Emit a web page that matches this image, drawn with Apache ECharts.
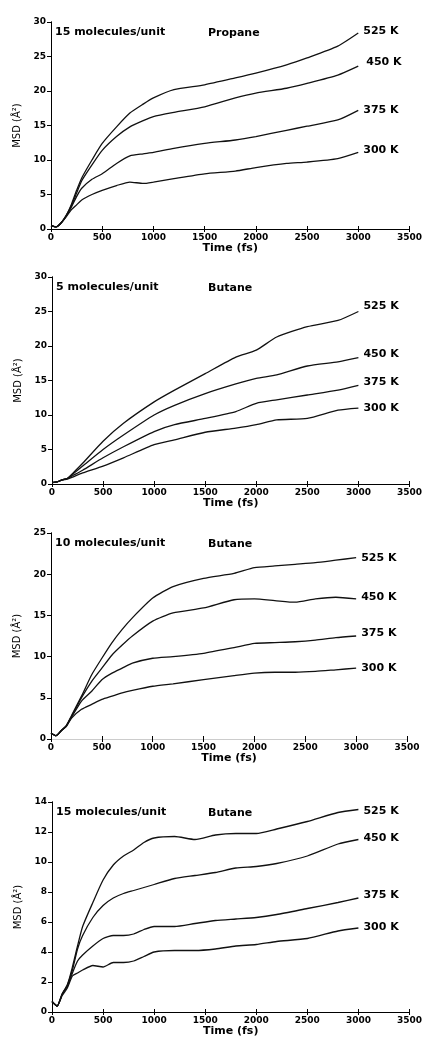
<!DOCTYPE html>
<html>
<head>
<meta charset="utf-8">
<script src="https://cdn.jsdelivr.net/npm/echarts@6/dist/echarts.min.js"></script>
<style>
  html, body { margin: 0; padding: 0; background: #fff; }
  #msdChart { width: 425px; height: 1038px; }
</style>
</head>
<body>
<div id="msdChart"></div>
<script>
// time (fs) and MSD (A^2)
var p1Time = [0, 50, 100, 150, 200, 250, 300, 400, 500, 640, 770, 900, 1000, 1200, 1500, 1800, 2000, 2300, 2500, 2800, 3000];
var p1K525 = [0.5, 0.3, 0.9, 2.0, 3.6, 5.6, 7.4, 10.0, 12.4, 14.8, 16.8, 18.1, 19.0, 20.2, 20.9, 21.9, 22.6, 23.8, 24.8, 26.5, 28.4];
var p1K450 = [0.5, 0.3, 0.9, 2.0, 3.4, 5.2, 7.0, 9.3, 11.4, 13.4, 14.8, 15.7, 16.3, 16.9, 17.7, 19.0, 19.7, 20.4, 21.1, 22.3, 23.6];
var p1K375 = [0.5, 0.3, 0.9, 1.9, 3.2, 4.7, 5.9, 7.2, 8.0, 9.5, 10.6, 10.9, 11.1, 11.7, 12.4, 12.9, 13.4, 14.3, 14.9, 15.8, 17.2];
var p1K300 = [0.5, 0.3, 0.9, 1.8, 2.8, 3.5, 4.2, 5.0, 5.6, 6.3, 6.8, 6.6, 6.8, 7.3, 8.0, 8.4, 8.9, 9.5, 9.7, 10.2, 11.1];

var p2Time = [0, 50, 100, 150, 200, 300, 500, 700, 1000, 1200, 1500, 1800, 2000, 2200, 2500, 2800, 3000];
var p2K525 = [0.2, 0.3, 0.6, 0.8, 1.5, 3.0, 6.2, 8.8, 11.9, 13.6, 16.0, 18.4, 19.4, 21.3, 22.8, 23.7, 25.0];
var p2K450 = [0.2, 0.3, 0.6, 0.8, 1.4, 2.6, 5.0, 7.1, 10.0, 11.4, 13.1, 14.5, 15.3, 15.8, 17.1, 17.7, 18.3];
var p2K375 = [0.2, 0.3, 0.6, 0.8, 1.2, 2.0, 3.8, 5.4, 7.6, 8.6, 9.5, 10.5, 11.7, 12.2, 12.9, 13.6, 14.3];
var p2K300 = [0.2, 0.3, 0.6, 0.7, 1.0, 1.6, 2.6, 3.8, 5.7, 6.4, 7.5, 8.1, 8.6, 9.3, 9.5, 10.7, 11.0];

var p3Time = [0, 50, 100, 150, 200, 300, 400, 500, 600, 700, 800, 1000, 1200, 1500, 1800, 2000, 2200, 2400, 2600, 2800, 3000];
var p3K525 = [0.7, 0.4, 1.0, 1.6, 2.8, 5.2, 7.8, 9.8, 11.7, 13.3, 14.7, 17.1, 18.5, 19.5, 20.1, 20.8, 21.0, 21.2, 21.4, 21.7, 22.0];
var p3K450 = [0.7, 0.4, 1.0, 1.6, 2.7, 5.0, 7.0, 8.6, 10.2, 11.4, 12.5, 14.3, 15.3, 15.9, 16.9, 17.0, 16.8, 16.6, 17.0, 17.2, 17.0];
var p3K375 = [0.7, 0.4, 1.0, 1.6, 2.6, 4.6, 5.8, 7.2, 8.0, 8.6, 9.2, 9.8, 10.0, 10.4, 11.1, 11.6, 11.7, 11.8, 12.0, 12.3, 12.5];
var p3K300 = [0.7, 0.4, 1.0, 1.5, 2.5, 3.6, 4.2, 4.8, 5.2, 5.6, 5.9, 6.4, 6.7, 7.2, 7.7, 8.0, 8.1, 8.1, 8.2, 8.4, 8.6];

var p4Time = [0, 50, 100, 150, 200, 250, 300, 400, 500, 600, 700, 800, 900, 1000, 1200, 1400, 1600, 1800, 2000, 2200, 2500, 2800, 3000];
var p4K525 = [0.7, 0.4, 1.2, 1.8, 3.0, 4.4, 5.7, 7.3, 8.8, 9.8, 10.4, 10.8, 11.3, 11.6, 11.7, 11.5, 11.8, 11.9, 11.9, 12.2, 12.7, 13.3, 13.5];
var p4K450 = [0.7, 0.4, 1.2, 1.8, 2.8, 4.2, 5.1, 6.3, 7.1, 7.6, 7.9, 8.1, 8.3, 8.5, 8.9, 9.1, 9.3, 9.6, 9.7, 9.9, 10.4, 11.2, 11.5];
var p4K375 = [0.7, 0.4, 1.2, 1.7, 2.6, 3.4, 3.8, 4.4, 4.9, 5.1, 5.1, 5.2, 5.5, 5.7, 5.7, 5.9, 6.1, 6.2, 6.3, 6.5, 6.9, 7.3, 7.6];
var p4K300 = [0.7, 0.4, 1.1, 1.6, 2.4, 2.6, 2.8, 3.1, 3.0, 3.3, 3.3, 3.4, 3.7, 4.0, 4.1, 4.1, 4.2, 4.4, 4.5, 4.7, 4.9, 5.4, 5.6];

var tempLabels = ['525 K', '450 K', '375 K', '300 K'];
var loadingLabels = ['15 molecules/unit', '5 molecules/unit', '10 molecules/unit', '15 molecules/unit'];
var moleculeLabels = ['Propane', 'Butane', 'Butane', 'Butane'];
var yMax = [30, 30, 25, 14];
var yStep = [5, 5, 5, 2];

var panels = [
  { time: p1Time, vals: [p1K525, p1K450, p1K375, p1K300] },
  { time: p2Time, vals: [p2K525, p2K450, p2K375, p2K300] },
  { time: p3Time, vals: [p3K525, p3K450, p3K375, p3K300] },
  { time: p4Time, vals: [p4K525, p4K450, p4K375, p4K300] }
];

// grid boxes
var grids = [
  { left: 51, right: 14, top: 22, height: 207 },
  { left: 52, right: 12, top: 277, height: 207 },
  { left: 51, right: 18, top: 533, height: 206 },
  { left: 52, right: 15, top: 802, height: 211 }
];
// small nudges for the temperature labels
var labelShift = [
  [[0, -2], [3, -4], [0, 0], [0, -2]],
  [[0, -5], [0, -4], [0, -3], [0, 0]],
  [[0, 0], [0, -2], [0, -3], [0, 0]],
  [[0, 2], [0, -1], [0, -3], [0, -1]]
];

var font = '"DejaVu Sans", Verdana, sans-serif';
var plain = function (v) { return String(v); };

var xAxes = [], yAxes = [], series = [], graphics = [];
grids.forEach(function (g, i) {
  xAxes.push({
    gridIndex: i, type: 'value', min: 0, max: 3500, interval: 500,
    name: 'Time (fs)', nameLocation: 'middle', nameGap: 14,
    nameTextStyle: { fontFamily: font, fontWeight: 'bold', fontSize: 11, color: '#000' },
    axisLine: { show: false },
    axisTick: { show: true, inside: true, length: 3, lineStyle: { color: '#000' } },
    axisLabel: { fontFamily: font, fontWeight: 'bold', fontSize: 9, color: '#000', margin: 4, formatter: plain },
    splitLine: { show: false }
  });
  xAxes.push({
    gridIndex: i, type: 'value', min: 0, max: 3500, interval: 500, position: 'top',
    axisLine: { show: true, lineStyle: { color: i === 2 ? '#ccc' : '#000', width: 1 } },
    axisTick: { show: true, inside: true, length: 3, lineStyle: { color: '#000' } },
    axisLabel: { show: false }, splitLine: { show: false }
  });
  yAxes.push({
    gridIndex: i, type: 'value', min: 0, max: yMax[i], interval: yStep[i],
    name: 'MSD (Å²)', nameLocation: 'middle', nameGap: 24,
    nameTextStyle: { fontFamily: font, fontSize: 10, color: '#000' },
    axisLine: { show: true, lineStyle: { color: '#000', width: 1 } },
    axisTick: { show: true, length: 3, lineStyle: { color: '#000' } },
    axisLabel: { fontFamily: font, fontWeight: 'bold', fontSize: 9, color: '#000', margin: 5, formatter: plain },
    splitLine: { show: false }
  });
  yAxes.push({
    gridIndex: i, type: 'value', min: 0, max: yMax[i], interval: yStep[i], position: 'right',
    axisLine: { show: true, lineStyle: { color: '#000', width: 1 } },
    axisTick: { show: true, inside: true, length: 4, lineStyle: { color: '#000' } },
    axisLabel: { show: false }, splitLine: { show: false }
  });

  panels[i].vals.forEach(function (vals, k) {
    series.push({
      name: tempLabels[k], type: 'line',
      xAxisIndex: i * 2, yAxisIndex: i * 2,
      data: panels[i].time.map(function (t, j) { return [t, vals[j]]; }),
      showSymbol: false, smooth: 0.2,
      lineStyle: { color: '#111', width: 1.3 },
      endLabel: {
        show: true, formatter: tempLabels[k], distance: 5,
        offset: labelShift[i][k],
        fontFamily: font, fontWeight: 'bold', fontSize: 11, color: '#000'
      },
      animation: false
    });
  });

  graphics.push({
    type: 'text', left: g.left + 4, top: g.top + 5,
    style: { text: loadingLabels[i], font: 'bold 11px ' + font, fill: '#000' }
  });
  graphics.push({
    type: 'text', left: 208, top: g.top + 6,
    style: { text: moleculeLabels[i], font: 'bold 11px ' + font, fill: '#000' }
  });
});

var myChart = echarts.init(document.getElementById('msdChart'));
myChart.setOption({
  backgroundColor: '#fff',
  animation: false,
  grid: grids,
  xAxis: xAxes,
  yAxis: yAxes,
  series: series,
  graphic: graphics
});
</script>
</body>
</html>
